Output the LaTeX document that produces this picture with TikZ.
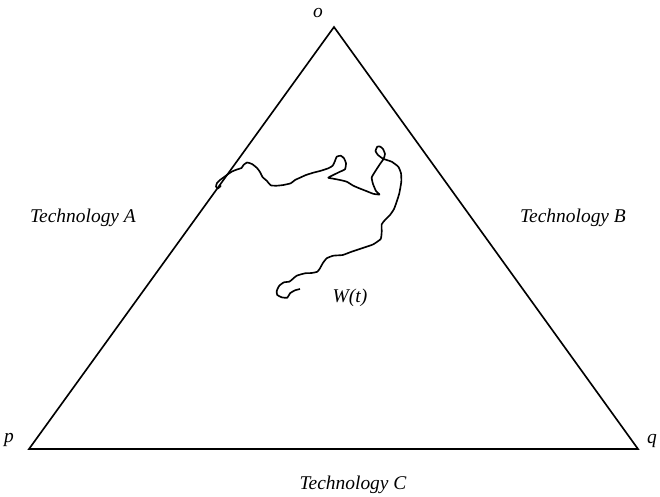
\documentclass[tikz,border=0pt]{standalone}
\usepackage{fontspec}
\setmainfont{Liberation Serif}[ItalicFont={Liberation Serif Italic}]

\begin{document}
\begin{tikzpicture}[x=0.03cm,y=-0.03cm,line width=1.4pt,font=\fontsize{16.6}{20}\selectfont\itshape]

\useasboundingbox (0,0) rectangle (660,497);

% vertices of the simplex
\coordinate (o) at (334,27);
\coordinate (p) at (29,449);
\coordinate (q) at (638,449);

\draw[line join=miter] (o) -- (p) -- (q) -- cycle;

\node (lo) at (318,13) {o};
\node (lp) at (9,440) {p};
\node (lq) at (652,441) {q};

\node (techA) at (83,218) {Technology A};
\node (techB) at (573,218) {Technology B};
\node (techC) at (353,485) {Technology C};

% sample path of W(t)
\draw[line join=round] plot[smooth,tension=0.3] coordinates {
 (300,289) (295,290.3) (290,293.3) (287.3,297.7) (281.7,297.3) (277.3,295)
 (276.7,291) (279.3,285.7) (284,282.3) (289.3,281.7) (292.7,279) (296.7,275.7)
 (305,273.3) (311.7,273) (317.3,271.7) (320,268.3) (322.7,263.3) (326.7,258.3)
 (333.3,255.7) (342.7,255) (350,252.3) (356.7,250) (366.7,246.7) (373.3,244.3)
 (380.7,239) (381.7,231.7) (381.7,224.3) (385,220) (390,215) (394,209)
 (396.7,201.7) (399.3,193.3) (401.3,181.7) (401,173.3) (398.3,166.7) (391.7,161.7)
 (386.7,160) (382.7,158.5) (378,155) (375.5,151) (377.3,146.7) (380,146.5)
 (383,149) (385,154) (383.5,159) (380,164) (375,171.7) (371.7,177.5)
 (373,184) (376,191) (379.5,194.5) (373.3,193.8) (366.7,191.2) (359.3,188.3)
 (353.3,185.7) (346.7,181.7) (340,180) (333.3,178.7) (328.3,177.7) (333.3,175)
 (340,171.7) (345,169.3) (346,163.3) (344,158.3) (340.7,155.7) (336.7,156.7)
 (335,161) (332.7,165.7) (328.3,168.3) (320,171) (313.3,172.7) (306,175)
 (300,177.7) (295,180) (290.7,183.3) (283.3,185) (276.7,185.7) (270.7,185.3)
 (267,181) (262.5,177) (260,172) (257,168) (252,164) (247,162.5)
 (243.5,165) (241.5,168) (237,169.5) (232,171.5) (227.5,174.5) (223.5,177.5)
 (220,180) (217,183) (216,186.5) (218,188.5) (221,185.5)};

\node (w) at (350,298) {W(t)};

\end{tikzpicture}
\end{document}
